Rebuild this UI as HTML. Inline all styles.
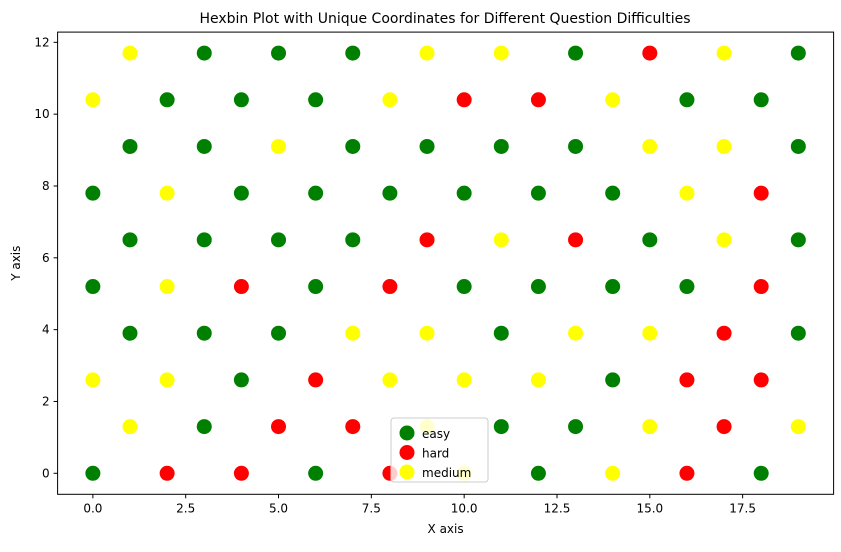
<!DOCTYPE html>
<html><head><meta charset="utf-8"><style>
body{margin:0;background:#fff}
text{font-family:"DejaVu Sans","Liberation Sans",sans-serif;fill:#000}
</style></head><body>
<svg id="chart" width="841" height="547" xmlns="http://www.w3.org/2000/svg">
<rect width="841" height="547" fill="#fff"/>
<text x="445" y="23" font-size="14" text-anchor="middle">Hexbin Plot with Unique Coordinates for Different Question Difficulties</text>
<g id="marks"></g>
<g id="axes"></g>
</svg>
<script>
const rowY = [0, 1.3, 2.6, 3.9, 5.2, 6.5, 7.8, 9.1, 10.4, 11.7];
const rowColors = [
 "GRRGRYGYRG",
 "YGRRYGGYRY",
 "YYGRYYYGRR",
 "GGGYYGYYRG",
 "GYRGRGGGGR",
 "GGGGRYRGYG",
 "GYGGGGGGYR",
 "GGYGGGGYYG",
 "YGGGYRRYGG",
 "YGGGYYGRYG"
];
const xTicks = [0, 2.5, 5, 7.5, 10, 12.5, 15, 17.5];
const yTicks = [0, 2, 4, 6, 8, 10, 12];
const L=57.6,R=833.6,T=32.1,B=494.3;
const xmin=-0.95,xmax=19.95,ymin=-0.585,ymax=12.285;
const sx=v=>L+(v-xmin)/(xmax-xmin)*(R-L);
const sy=v=>B-(v-ymin)/(ymax-ymin)*(B-T);
const col={G:"#008000",R:"#ff0000",Y:"#ffff00"};
const names={G:"easy",R:"hard",Y:"medium"};
const NS="http://www.w3.org/2000/svg";
const mk=(t,a)=>{const e=document.createElementNS(NS,t);for(const k in a)e.setAttribute(k,a[k]);return e;};
const marks=document.getElementById('marks'),axes=document.getElementById('axes');
const groups={G:[],R:[],Y:[]};
rowY.forEach((y,r)=>{for(let i=0;i<10;i++){const x=(r%2)+2*i;groups[rowColors[r][i]].push([x,y]);}});
["G","R","Y"].forEach(k=>groups[k].forEach(([x,y])=>{
 const c=mk('circle',{cx:sx(x),cy:sy(y),r:7.5,fill:col[k]});
 
 
 marks.appendChild(c);
}));
const frame=mk('rect',{x:L,y:T,width:R-L,height:B-T,fill:"none",stroke:"#000","stroke-width":1});


axes.appendChild(frame);
xTicks.forEach(v=>{
 axes.appendChild(mk('line',{x1:sx(v),x2:sx(v),y1:B,y2:B+4,stroke:"#000"}));
 const t=mk('text',{x:sx(v),y:B+18,"font-size":12,"text-anchor":"middle"});
 
 
 t.textContent=v.toFixed(1);axes.appendChild(t);
});
yTicks.forEach(v=>{
 axes.appendChild(mk('line',{x1:L-4,x2:L,y1:sy(v),y2:sy(v),stroke:"#000"}));
 const t=mk('text',{x:L-8,y:sy(v)+4,"font-size":12,"text-anchor":"end"});
 
 
 t.textContent=v;axes.appendChild(t);
});
const xt=mk('text',{x:(L+R)/2,y:533,"font-size":12,"text-anchor":"middle"});


xt.textContent="X axis";axes.appendChild(xt);
const yt=mk('text',{x:20,y:(T+B)/2,"font-size":12,"text-anchor":"middle",transform:`rotate(-90 20 ${(T+B)/2})`});


yt.textContent="Y axis";axes.appendChild(yt);
const lg=mk('g',{});


lg.appendChild(mk('rect',{x:391,y:418,width:97,height:64,rx:3,fill:"#fff","fill-opacity":0.8,stroke:"#ccc"}));
[["easy","G"],["hard","R"],["medium","Y"]].forEach(([n,k],i)=>{
 const e=mk('g',{});
 
 
 e.appendChild(mk('circle',{cx:407,cy:433+i*19.5,r:7.5,fill:col[k]}));
 const t=mk('text',{x:422,y:438+i*19.5,"font-size":12});t.textContent=n;e.appendChild(t);
 lg.appendChild(e);
});
axes.appendChild(lg);
</script>
</body></html>
